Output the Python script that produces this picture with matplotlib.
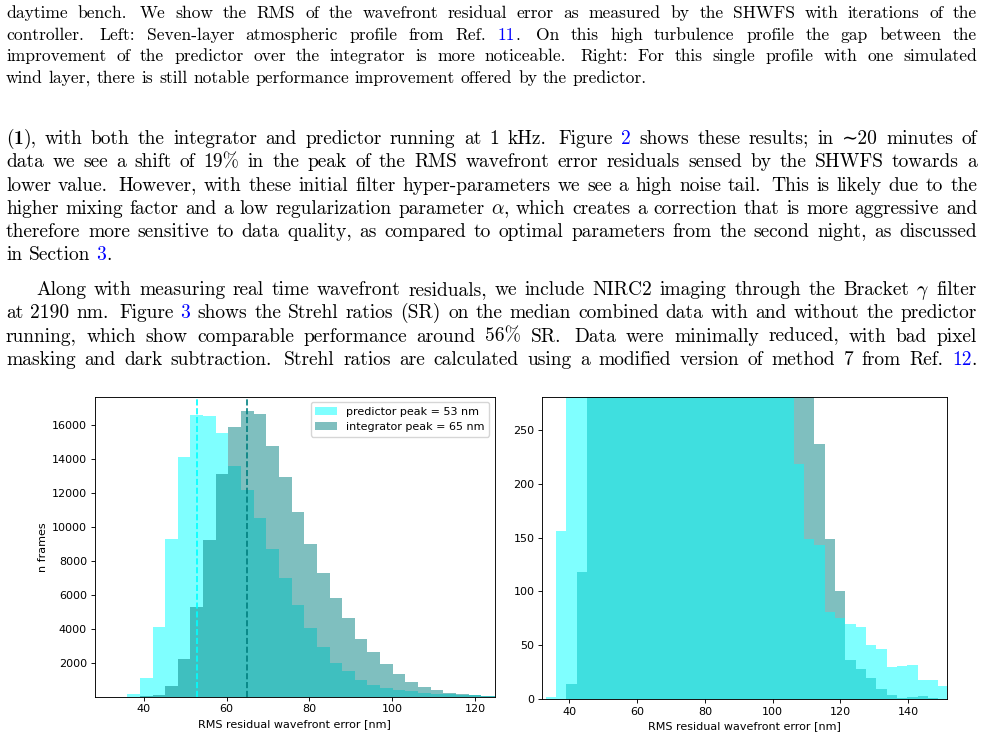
import re
import matplotlib
matplotlib.use('Agg')
import matplotlib.pyplot as plt

plt.rcParams['mathtext.fontset'] = 'cm'

# histogram data (bin edges in nm, counts per bin)
bin_edges = [33.0, 36.05, 39.1, 42.15, 45.2, 48.25, 51.3, 54.35, 57.4, 60.45,
             63.5, 66.55, 69.6, 72.65, 75.7, 78.75, 81.8, 84.85, 87.9, 90.95,
             94.0, 97.05, 100.1, 103.15, 106.2, 109.25, 112.3, 115.35, 118.4,
             121.45, 124.5, 127.55, 130.6, 133.65, 136.7, 139.75, 142.8,
             145.85, 148.9, 151.95]
predictor_counts = [2, 156, 1100, 4120, 9250, 14080, 16570, 16530, 15490,
                    13570, 12160, 10490, 8690, 6980, 5390, 4040, 2940, 2000,
                    1510, 980, 690, 490, 390, 310, 218, 149, 143, 81, 75, 70,
                    67, 50, 47, 30, 31, 32, 18, 18, 12]
integrator_counts = [0, 0, 14, 118, 630, 2200, 5270, 9240, 13080, 15840,
                     16820, 16630, 14760, 12920, 10860, 9000, 7270, 5800,
                     4610, 3410, 2610, 1900, 1350, 840, 550, 370, 237, 149,
                     100, 36, 28, 20, 10, 4, 1, 2, 3, 1, 0]
predictor_peak = 53
integrator_peak = 65

# page text ([..] = blue link, {..} = bold)
caption_lines = [
    "daytime bench.  We show the RMS of the wavefront residual error as measured by the SHWFS with iterations of the",
    "controller.  Left: Seven-layer atmospheric profile from Ref. [11].  On this high turbulence profile the gap between the",
    "improvement of the predictor over the integrator is more noticeable.  Right: For this single profile with one simulated",
    "wind layer, there is still notable performance improvement offered by the predictor.",
]
para1_lines = [
    "({1}), with both the integrator and predictor running at 1 kHz.  Figure [2] shows these results; in \u223c20 minutes of",
    "data we see a shift of 19% in the peak of the RMS wavefront error residuals sensed by the SHWFS towards a",
    "lower value.  However, with these initial filter hyper-parameters we see a high noise tail.  This is likely due to the",
    "higher mixing factor and a low regularization parameter $\\alpha$, which creates a correction that is more aggressive and",
    "therefore more sensitive to data quality, as compared to optimal parameters from the second night, as discussed",
    "in Section [3].",
]
para2_lines = [
    "Along with measuring real time wavefront residuals, we include NIRC2 imaging through the Bracket $\\gamma$ filter",
    "at 2190 nm.  Figure [3] shows the Strehl ratios (SR) on the median combined data with and without the predictor",
    "running, which show comparable performance around 56% SR.  Data were minimally reduced, with bad pixel",
    "masking and dark subtraction.  Strehl ratios are calculated using a modified version of method 7 from Ref. [12].",
]

W, H = 984, 738
fig = plt.figure(figsize=(W / 100, H / 100), dpi=100)
renderer = fig.canvas.get_renderer()


def draw_line(line, x0, x1, y, fs, justify=True):
    words, gaps = [], []
    wide = False
    for w in line.split(' '):
        if not w:
            wide = True
            continue
        if words:
            gaps.append(1.4 if wide else 1.0)
        wide = False
        words.append(w)
    placed = []
    total = 0
    for w in words:
        arts = []
        for p in re.split(r'(\[[^\]]*\]|\{[^}]*\})', w):
            if not p:
                continue
            color, fam = 'black', ['cmr10', 'DejaVu Serif']
            if p.startswith('['):
                p, color = p[1:-1], 'blue'
            elif p.startswith('{'):
                p, fam = p[1:-1], 'cmb10'
            t = fig.text(0, 1 - y / H, p, fontsize=fs, family=fam,
                         color=color, va='baseline', ha='left')
            arts.append((t, t.get_window_extent(renderer).width))
        placed.append(arts)
        total += sum(a[1] for a in arts)
    if justify and gaps:
        unit = (x1 - x0 - total) / sum(gaps)
    else:
        unit = fs * 100 / 72 * 0.333
    x = x0
    for i, arts in enumerate(placed):
        for t, wd in arts:
            t.set_x(x / W)
            x += wd
        if i < len(gaps):
            x += unit * gaps[i]


# caption
for i, line in enumerate(caption_lines):
    draw_line(line, 6, 977, 18 + 21.6 * i, 12.6, justify=i < len(caption_lines) - 1)
# body
for i, line in enumerate(para1_lines):
    draw_line(line, 6, 977, 144 + 23.3 * i, 14, justify=i < len(para1_lines) - 1)
for i, line in enumerate(para2_lines):
    draw_line(line, 36 if i == 0 else 6, 977, 295 + 23.3 * i, 14)

centers = [(a + b) / 2 for a, b in zip(bin_edges[:-1], bin_edges[1:])]


def style(ax):
    ax.tick_params(labelsize=8, length=2.8, width=0.65, pad=2.8)
    for s in ax.spines.values():
        s.set_linewidth(0.65)


# left: full histogram
ax1 = fig.add_axes([94.7 / W, 41.3 / H, 400 / W, 300 / H])
ax1.hist(centers, bins=bin_edges, weights=predictor_counts, color='cyan',
         alpha=0.5, label=f'predictor peak = {predictor_peak} nm')
ax1.hist(centers, bins=bin_edges, weights=integrator_counts, color='teal',
         alpha=0.5, label=f'integrator peak = {integrator_peak} nm')
ax1.axvline(predictor_peak, color='cyan', ls='--', lw=1.2)
ax1.axvline(integrator_peak, color='teal', ls='--', lw=1.2)
ax1.set_xlim(28.2, 124.7)
ax1.set_ylim(0, 17640)
ax1.set_yticks(range(2000, 16001, 2000))
ax1.set_xlabel('RMS residual wavefront error [nm]', fontsize=8, labelpad=3)
ax1.set_ylabel('n frames', fontsize=8, labelpad=3)
ax1.legend(loc='upper right', fontsize=8)
style(ax1)

# right: zoom on the tails
ax2 = fig.add_axes([542.3 / W, 38.7 / H, 405 / W, 302 / H])
ax2.hist(centers, bins=bin_edges, weights=integrator_counts, color='teal', alpha=0.5)
ax2.hist(centers, bins=bin_edges, weights=predictor_counts, color='cyan', alpha=0.5)
ax2.set_xlim(32, 151.6)
ax2.set_ylim(0, 280)
ax2.set_xlabel('RMS residual wavefront error [nm]', fontsize=8, labelpad=3)
style(ax2)

fig.savefig('out.png', dpi=100)
